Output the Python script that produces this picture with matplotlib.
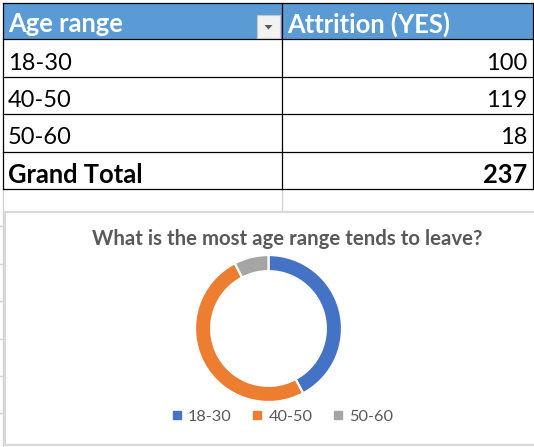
import matplotlib
matplotlib.use('Agg')
import matplotlib.pyplot as plt
from matplotlib.patches import Rectangle, Polygon
from matplotlib.lines import Line2D

# ---- data ----
age_ranges = ['18-30', '40-50', '50-60']
attrition_yes = [100, 119, 18]
header_labels = ['Age range', 'Attrition (YES)']
total_label = 'Grand Total'
chart_title = 'What is the most age range tends to leave?'
slice_colors = ['#4472C4', '#ED7D31', '#A5A5A5']

W, H = 534, 447
FONT = 'Lato'
fig = plt.figure(figsize=(W / 100, H / 100), dpi=100)
fig.patch.set_facecolor('white')

bg = fig.add_axes([0, 0, 1, 1])
bg.set_xlim(0, W)
bg.set_ylim(H, 0)
bg.axis('off')

# ---- table geometry ----
x_left, x_mid, x_right = 3.3, 282, 532.5
y_top = 3.3
header_h = 36
row_h = 37.4
n_rows = len(age_ranges) + 1
row_bounds = [y_top, y_top + header_h] + [y_top + header_h + row_h * (i + 1) for i in range(n_rows)]
y_bottom = row_bounds[-1]

# sheet gridlines peeking out
grid_c = '#D4D4D4'
bg.plot([x_mid, x_mid], [y_bottom, 212], color=grid_c, lw=1, zorder=1)
bg.plot([x_left, x_left], [y_bottom, H], color=grid_c, lw=1, zorder=1)
for k in range(1, 7):
    yy = y_bottom + row_h * k
    bg.plot([0, x_left], [yy, yy], color=grid_c, lw=1, zorder=1)

# header fill
bg.add_patch(Rectangle((x_left, y_top), x_right - x_left, header_h,
                       facecolor='#5B9BD5', edgecolor='none', zorder=2))
# borders
lw_b = 0.9
for yy in row_bounds:
    bg.plot([x_left, x_right], [yy, yy], color='black', lw=lw_b, zorder=3)
for xx in (x_left, x_mid, x_right):
    bg.plot([xx, xx], [y_top, y_bottom], color='black', lw=lw_b, zorder=3)

# dropdown button
bg.add_patch(Rectangle((257, 15), 23, 23, facecolor='#F2F2F2', edgecolor='#C8C8C8', lw=0.8, zorder=4))
bg.add_patch(Polygon([[264.5, 25], [272.5, 25], [268.5, 29.5]], closed=True,
                     facecolor='#595959', edgecolor='none', zorder=5))

fs_tab = 17
fs_bold = 18.4
# header text
hb = row_bounds[1] - 7
bg.text(8, hb, header_labels[0], color='white', fontsize=fs_bold, fontweight='bold',
        family=FONT, va='baseline', ha='left', zorder=5)
bg.text(287, hb, header_labels[1], color='white', fontsize=fs_bold, fontweight='bold',
        family=FONT, va='baseline', ha='left', zorder=5)

# body rows
for i, (lab, val) in enumerate(zip(age_ranges, attrition_yes)):
    b = row_bounds[i + 2] - 7
    bg.text(8, b, lab, fontsize=fs_tab, family=FONT, va='baseline', ha='left', color='black', zorder=5)
    bg.text(527, b, str(val), fontsize=fs_tab, family=FONT, va='baseline', ha='right', color='black', zorder=5)
b = row_bounds[-1] - 6
bg.text(8, b, total_label, fontsize=fs_bold, family=FONT, fontweight='bold', va='baseline', ha='left', color='black', zorder=5)
bg.text(527, b, str(sum(attrition_yes)), fontsize=fs_bold, family=FONT, fontweight='bold', va='baseline', ha='right', color='black', zorder=5)

# ---- chart box ----
bg.add_patch(Rectangle((4.5, 211.5), W, 233.5, facecolor='white', edgecolor='#D9D9D9', lw=1.6, zorder=2))
bg.text(287, 245, chart_title, fontsize=14.7, fontweight='bold', family=FONT,
        color='#595959', ha='center', va='baseline', zorder=5)

# ---- donut ----
cx, cy, R = 268.5, 328.5, 73.5
ax = fig.add_axes([(cx - R) / W, (H - cy - R) / H, 2 * R / W, 2 * R / H])
wedges, _ = ax.pie(attrition_yes, colors=slice_colors, startangle=90, counterclock=False,
                   radius=1.0, wedgeprops=dict(width=0.22, edgecolor='white', linewidth=1.6))
ax.set_xlim(-1.0, 1.0)
ax.set_ylim(-1.0, 1.0)
ax.set_aspect('equal')
ax.axis('off')

# ---- legend ----
handles = [Line2D([], [], marker='s', linestyle='none', markersize=5.5,
                  markerfacecolor=c, markeredgecolor=c) for c in slice_colors]
leg = fig.legend(handles, age_ranges, loc='center', bbox_to_anchor=(283 / W, 1 - 416.5 / H),
                 ncol=3, frameon=False, handlelength=0.5, handletextpad=0.45, columnspacing=1.3,
                 prop={'family': FONT, 'size': 11.8})
for t in leg.get_texts():
    t.set_color('#595959')

fig.savefig('out.png', dpi=100, facecolor='white')
